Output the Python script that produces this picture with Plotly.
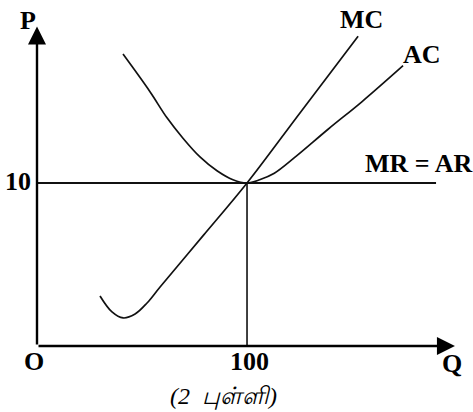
import plotly.graph_objects as go

# Data (Q, P)
mc_q = [30, 35.7, 41, 46.7, 52.4, 58.6, 79.3, 100, 125.2, 152.9]
mc_p = [3.07, 2.09, 1.72, 1.96, 2.64, 3.62, 6.8, 10.0, 14.3, 19.0]

ac_q = [40.95, 53.8, 61.9, 69.5, 77.6, 85.7, 93.3, 100, 106, 113, 123, 138.6, 154.8, 174.3]
ac_p = [17.91, 15.6, 14.0, 12.75, 11.6, 10.75, 10.2, 10.0, 10.2, 10.6, 11.6, 13.3, 15.0, 17.2]

price = 10
quantity = 100
mr_q = [0, 190]
mr_p = [price, price]

q_max = 199
p_max = 19.6

FONT = "Liberation Serif"
ink = "#111111"

fig = go.Figure()
fig.add_trace(go.Scatter(x=mc_q, y=mc_p, mode="lines", line=dict(color=ink, width=1.7, shape="spline", smoothing=1.0), hoverinfo="skip"))
fig.add_trace(go.Scatter(x=ac_q, y=ac_p, mode="lines", line=dict(color=ink, width=1.7, shape="spline", smoothing=1.0), hoverinfo="skip"))
fig.add_trace(go.Scatter(x=mr_q, y=mr_p, mode="lines", line=dict(color=ink, width=2.2), hoverinfo="skip"))
fig.add_trace(go.Scatter(x=[quantity, quantity], y=[0, price], mode="lines", line=dict(color=ink, width=1.6), hoverinfo="skip"))

# axes with arrows
fig.add_annotation(x=0, y=p_max, ax=0, ay=0, xref="x", yref="y", axref="x", ayref="y",
                   text="", showarrow=True, arrowhead=2, arrowsize=1.5, arrowwidth=2.4, arrowcolor="black", standoff=0, startstandoff=0)
fig.add_annotation(x=q_max, y=0, ax=0, ay=0, xref="x", yref="y", axref="x", ayref="y",
                   text="", showarrow=True, arrowhead=2, arrowsize=1.5, arrowwidth=2.4, arrowcolor="black", standoff=0, startstandoff=0)

bold = dict(family=FONT, size=26, color="black")
labels = [
    ("<b>P</b>", -4.3, 20.0, "center"),
    ("<b>MC</b>", 154.3, 20.06, "center"),
    ("<b>AC</b>", 183.3, 17.9, "center"),
    ("<b>MR = AR</b>", 155.2, 11.2, "left"),
    ("<b>10</b>", -9.0, 10.1, "center"),
    ("<b>O</b>", -1.4, -0.98, "center"),
    ("<b>100</b>", 101, -0.98, "center"),
    ("<b>Q</b>", 197.6, -1.1, "center"),
]
for t, x, y, xa in labels:
    fig.add_annotation(x=x, y=y, text=t, showarrow=False, xref="x", yref="y", xanchor=xa, yanchor="middle", font=bold)

fig.add_annotation(x=89, y=-3.07, text="<i>(2  புள்ளி)</i>", showarrow=False, xref="x", yref="y",
                   font=dict(family=FONT, size=24, color="black"))

fig.update_layout(
    width=473, height=412,
    margin=dict(l=0, r=0, t=0, b=0),
    paper_bgcolor="white", plot_bgcolor="white",
    showlegend=False,
    xaxis=dict(range=[-17.62, 207.6], visible=False, fixedrange=True),
    yaxis=dict(range=[-4.05, 21.23], visible=False, fixedrange=True),
)
fig.write_html("out.html", config={"displayModeBar": False},
               post_script="document.body.style.margin='0';document.body.style.overflow='hidden';")
